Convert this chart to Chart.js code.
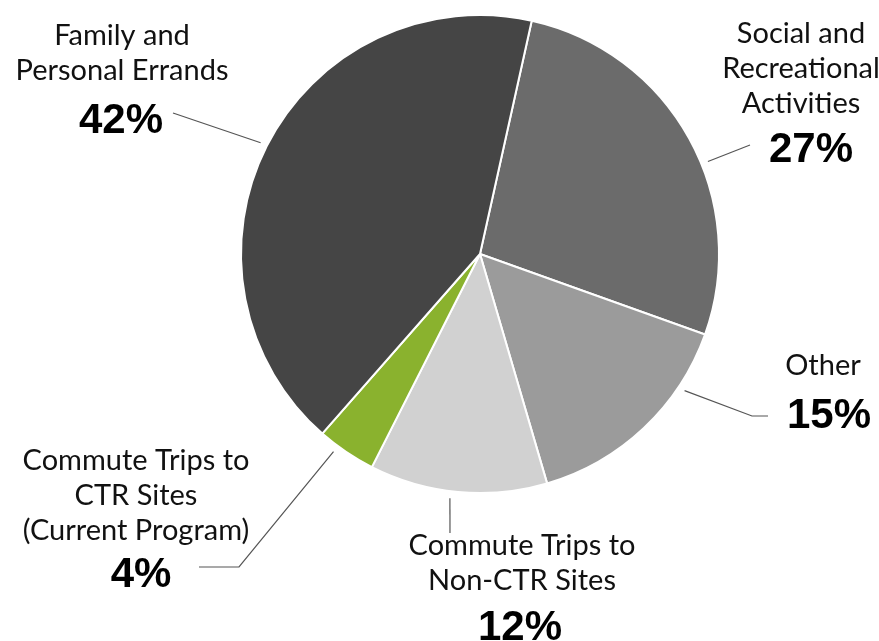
<!DOCTYPE html>
<html>
<head>
<meta charset="utf-8">
<script src="https://cdn.jsdelivr.net/npm/chart.js@4"></script>
<style>
  html, body { margin: 0; padding: 0; background: #fff; }
  #wrap { width: 879px; height: 641px; position: relative; }
</style>
</head>
<body>
<div id="wrap"><canvas id="chart-trips"></canvas></div>
<script>
// slices, clockwise from the top
const categories = [
  ["Social and", "Recreational", "Activities"],
  ["Other"],
  ["Commute Trips to", "Non-CTR Sites"],
  ["Commute Trips to", "CTR Sites", "(Current Program)"],
  ["Family and", "Personal Errands"],
];
const shares = [27, 15, 12, 4, 42];
const sliceColors = ["#6b6b6b", "#9b9b9b", "#d1d1d1", "#8ab22e", "#454545"];

// where each label sits and how its leader line runs
// f = how far along the slice the leader starts, pts = rest of the leader path
const labelLayout = [
  { x: 801, y: 43, pctX: 811, pctY: 162, f: 0.57, pts: [[750, 145]] },
  { x: 823, y: 375, pctX: 829, pctY: 428, f: 0.26, pts: [[752, 416], [768, 416]] },
  { x: 522, y: 555, pctX: 520, pctY: 640, f: 0.54, pts: [[450, 533]] },
  { x: 136, y: 470, pctX: 141, pctY: 587, f: 0.67, pts: [[239, 567], [199, 567]] },
  { x: 122, y: 45, pctX: 121, pctY: 133, f: 0.5, pts: [[173, 113]] },
];

const labelPlugin = {
  id: "pieLabels",
  afterDraw(chart) {
    const ctx = chart.ctx;
    const arcs = chart.getDatasetMeta(0).data;
    ctx.save();
    arcs.forEach((arc, i) => {
      const lay = labelLayout[i];
      const a = arc.startAngle + (arc.endAngle - arc.startAngle) * lay.f;
      const r = arc.outerRadius + 7;
      ctx.strokeStyle = "#555";
      ctx.lineWidth = 1.2;
      ctx.beginPath();
      ctx.moveTo(arc.x + Math.cos(a) * r, arc.y + Math.sin(a) * r);
      lay.pts.forEach((p) => ctx.lineTo(p[0], p[1]));
      ctx.stroke();

      ctx.textAlign = "center";
      ctx.textBaseline = "alphabetic";
      ctx.fillStyle = "#111";
      ctx.font = "29px Lato";
      categories[i].forEach((line, k) => {
        ctx.fillText(line, lay.x, lay.y + k * 35);
      });
      ctx.fillStyle = "#000";
      ctx.font = "bold 42px 'Liberation Sans'";
      ctx.fillText(shares[i] + "%", lay.pctX, lay.pctY);
    });
    ctx.restore();
  },
};

const ctxTrips = document.getElementById("chart-trips");
new Chart(ctxTrips, {
  type: "pie",
  data: {
    labels: categories.map((c) => c.join(" ")),
    datasets: [
      {
        data: shares,
        backgroundColor: sliceColors,
        borderColor: "#ffffff",
        borderWidth: 2,
      },
    ],
  },
  options: {
    responsive: true,
    maintainAspectRatio: false,
    animation: false,
    rotation: 12.5,
    layout: {
      padding: { left: 240, right: 159, top: 14, bottom: 147 },
    },
    plugins: {
      legend: { display: false },
      tooltip: { enabled: false },
    },
  },
  plugins: [labelPlugin],
});
</script>
</body>
</html>
